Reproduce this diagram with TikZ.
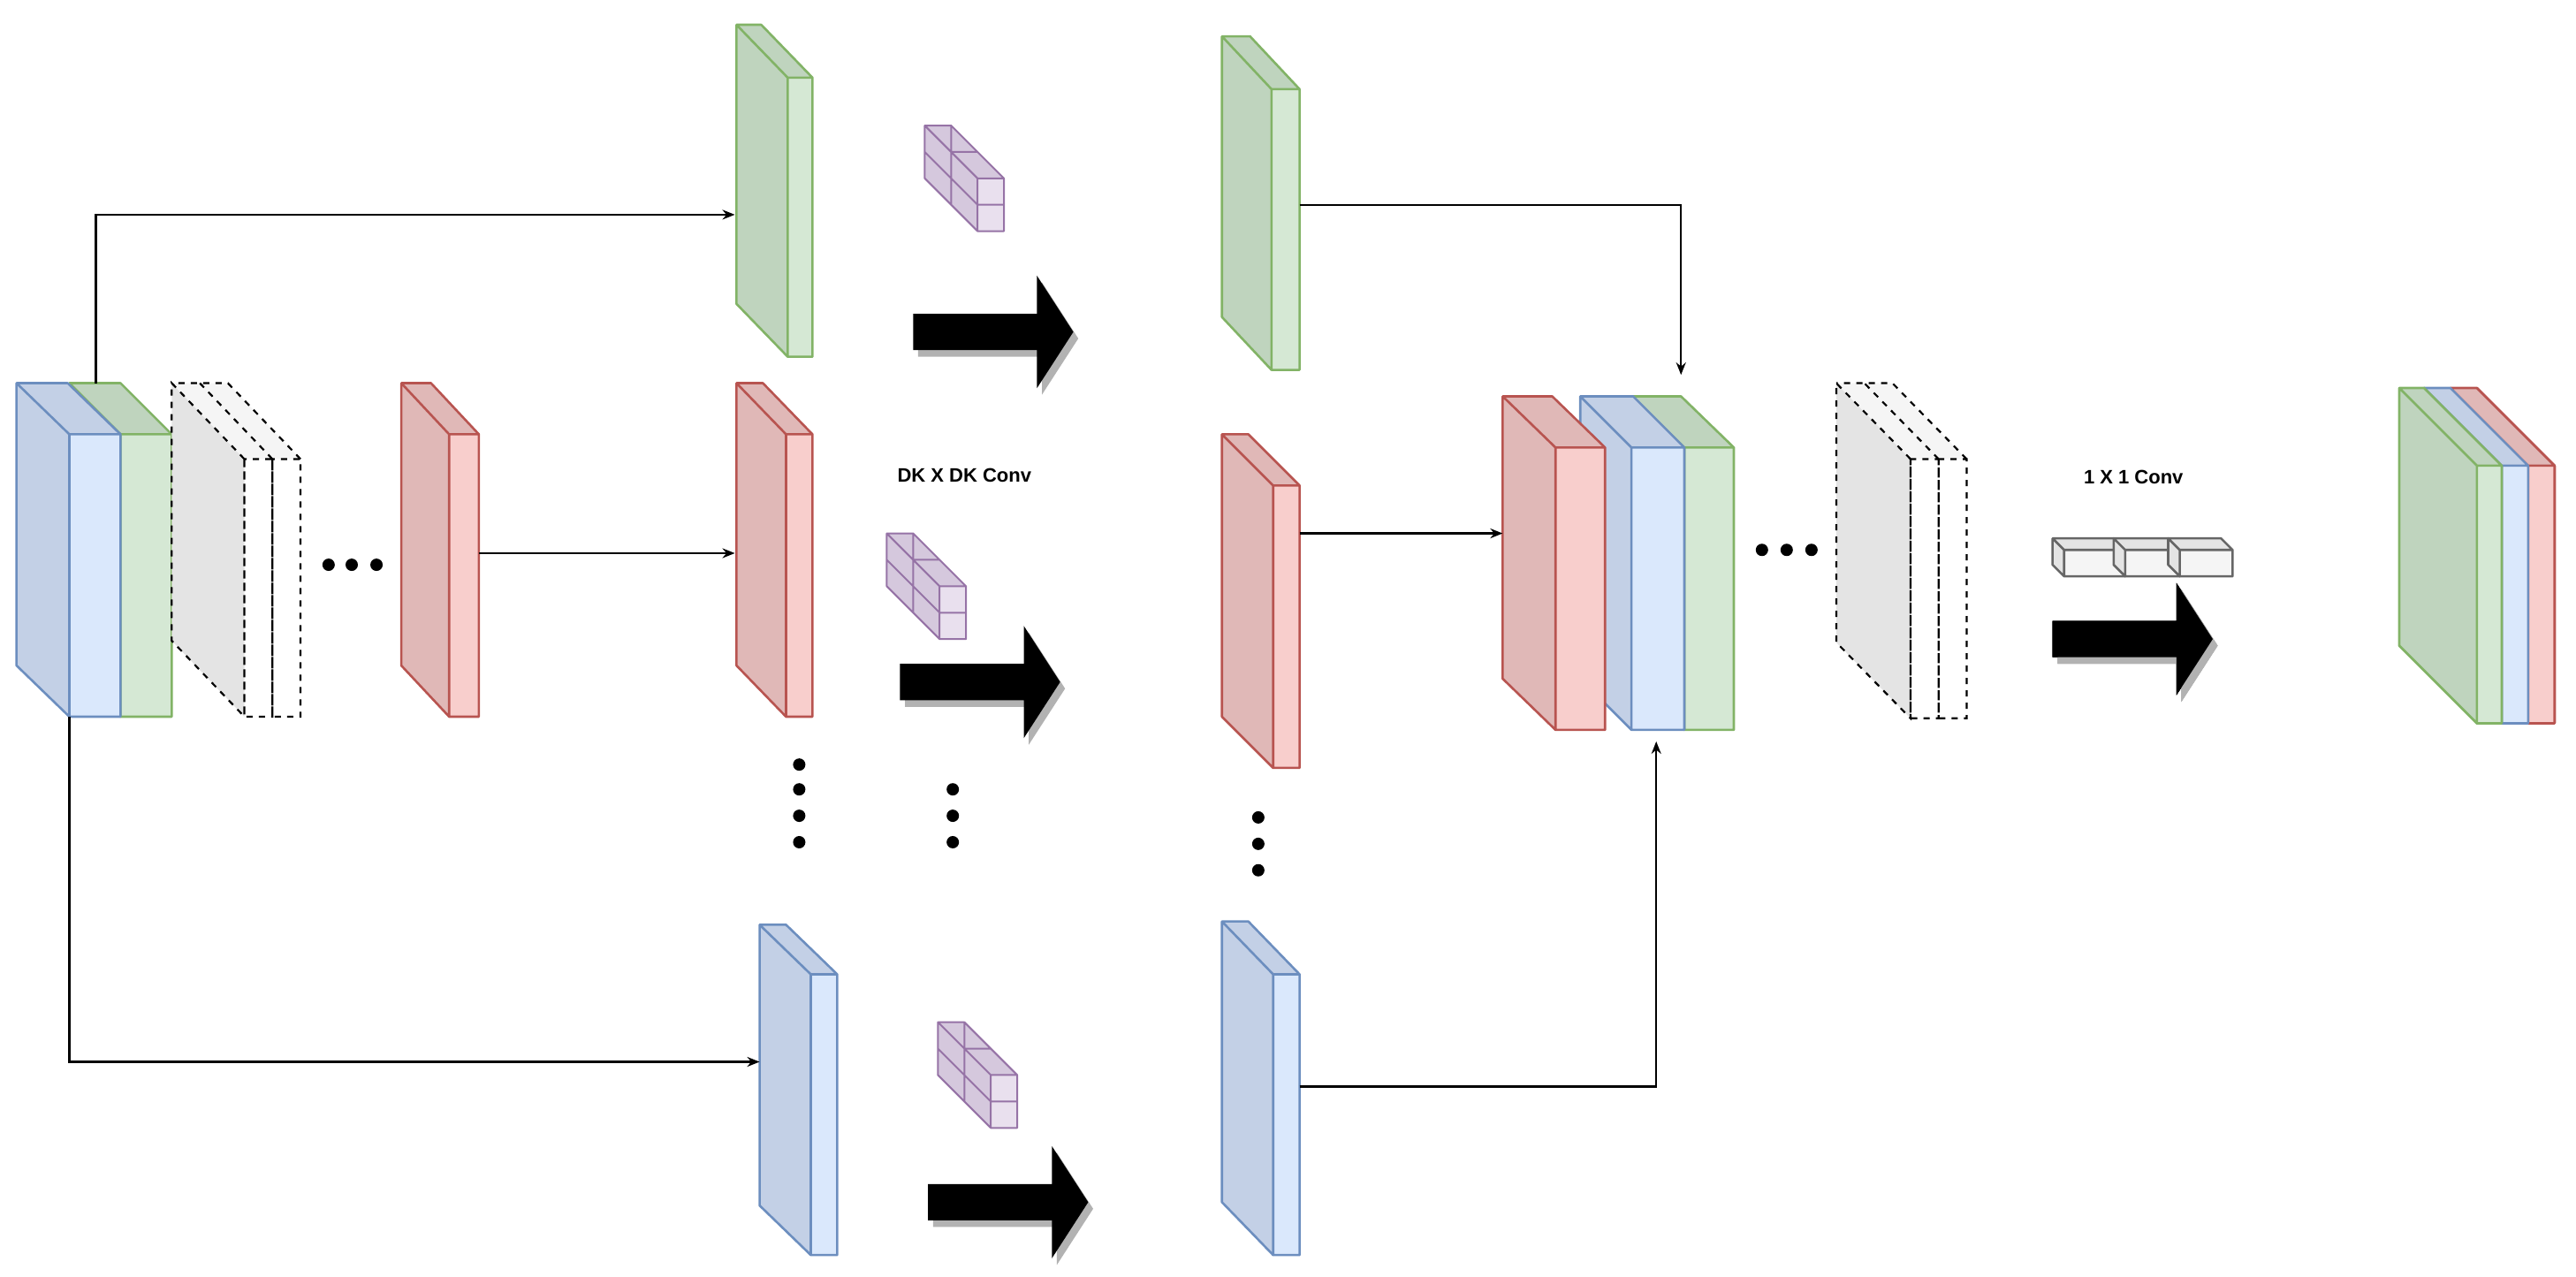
\documentclass[tikz,border=0pt]{standalone}
\usepackage{fontspec}
\setmainfont{Liberation Sans}
\usetikzlibrary{arrows.meta}
\definecolor{bF}{HTML}{DAE8FC}\definecolor{bS}{HTML}{C3D0E6}\definecolor{bD}{HTML}{6C8EBF}
\definecolor{gF}{HTML}{D5E8D4}\definecolor{gS}{HTML}{BFD4BE}\definecolor{gD}{HTML}{82B366}
\definecolor{rF}{HTML}{F8CECC}\definecolor{rS}{HTML}{E0B8B7}\definecolor{rD}{HTML}{B85450}
\definecolor{pF}{HTML}{E9E0EE}\definecolor{pS}{HTML}{D5C8DD}\definecolor{pD}{HTML}{9673A6}
\definecolor{kF}{HTML}{F5F5F5}\definecolor{kS}{HTML}{E4E4E4}\definecolor{kD}{HTML}{666666}
% x y1 y2 w bx by front side stroke
\newcommand\myslab[9]{%
  \fill[#8] (#1,#2)--++(#5,#6)--++(0,#3-#2)--(#1,#3)--cycle;
  \fill[#8] (#1,#2)--++(#5,#6)--++(#4,0)--(#1+#4,#2)--cycle;
  \fill[#7] (#1,#2) rectangle (#1+#4,#3);
  \draw[#9,line width=2.6pt,line join=round] (#1,#3)--++(#5,#6)--++(0,#2-#3)--++(#4,0)--(#1+#4,#2)--(#1+#4,#3)--cycle (#1,#2)--++(#5,#6) (#1,#2)--(#1,#3) (#1,#2)--(#1+#4,#2);}
\newcommand\dslab[5]{% x y1 y2 bx by : two dashed slabs
  \fill[kS] (#1,#2)--++(#4,#5)--++(0,#3-#2)--(#1,#3)--cycle;
  \fill[kF] (#1,#2)--++(#4,#5)--++(34,0)--(#1+34,#2)--cycle;
  \draw[dashed,line width=2.2pt,dash pattern=on 7pt off 7pt] (#1,#2)--++(#4,#5)--++(0,#3-#2)--(#1,#3)--cycle
   (#1+17,#2)--++(#4,#5) (#1+34,#2)--++(#4,#5)--(#1+#4,#2+#5)
   (#1,#2) rectangle (#1+17,#3) (#1+17,#2) rectangle (#1+34,#3);}
\newcommand\pkernel[2]{% front top-left x y, purple 2x2 kernel
  \begin{scope}[shift={(#1,#2)}]
  \fill[pS] (0,0)--(-32,-32)--(-32,0)--(0,32)--cycle;
  \fill[pS] (0,0)--(-32,-32)--(-16,-32)--(16,0)--cycle;
  \fill[pF] (0,0) rectangle (16,32);
  \draw[pD,line width=2pt,line join=round] (0,0) rectangle (16,32) (0,16)--(16,16)
   (0,0)--(-32,-32)--(-16,-32)--(16,0) (-32,-32)--(-32,0)--(0,32) (0,16)--(-32,-16)
   (-16,-16)--(-16,16) (-16,-16)--(0,-16) (-16,-32)--(-16,-16);
  \end{scope}}
\newcommand\fat[3]{% x0 yc name
  \fill[gray!60] (#1+3,#2-11+4)--(#1+78,#2-11+4)--(#1+78,#2-34+4)--(#1+100,#2+4)--(#1+78,#2+34+4)--(#1+78,#2+11+4)--(#1+3,#2+11+4)--cycle;
  \fill[black] (#1,#2-11)--(#1+75,#2-11)--(#1+75,#2-34)--(#1+97,#2)--(#1+75,#2+34)--(#1+75,#2+11)--(#1,#2+11)--cycle;
  \coordinate (#3) at (#1,#2);}
\begin{document}
\begin{tikzpicture}[x=1.869pt,y=-1.869pt,
  conn/.style={line width=2.4pt,-{Stealth[length=14pt,width=11pt]}},
  lbl/.style={font=\fontsize{22}{26}\selectfont\bfseries},
  dot/.style={circle,fill=black,inner sep=0pt,minimum size=14pt}]
\useasboundingbox (0,0) rectangle (1560,773);
% input stack
\myslab{73}{263}{434}{31}{-31}{-31}{gF}{gS}{gD}
\myslab{42}{263}{434}{31}{-32}{-31}{bF}{bS}{bD}
\dslab{148}{278}{434}{-44}{-46}
\foreach \x/\n in {199/a1,213/a2,228/a3} \node[dot] (\n) at (\x,342) {};
\myslab{272}{263}{434}{18}{-29}{-31}{rF}{rS}{rD}
% column 2
\myslab{477}{47}{216}{15}{-31}{-32}{gF}{gS}{gD}
\myslab{476}{263}{434}{16}{-30}{-31}{rF}{rS}{rD}
\myslab{491}{590}{760}{16}{-31}{-30}{bF}{bS}{bD}
\foreach \y/\n in {463/b1,478/b2,494/b3,510/b4} \node[dot] (\n) at (484,\y) {};
% kernels & arrows
\pkernel{592}{108}\pkernel{569}{355}\pkernel{600}{651}
\fat{553}{201}{f1}\fat{545}{413}{f2}\fat{562}{728}{f3}
\node[lbl] (dk) at (584,288) {DK X DK Conv};
\foreach \y/\n in {478/c1,494/c2,510/c3} \node[dot] (\n) at (577,\y) {};
% column 3
\myslab{770}{54}{224}{17}{-30}{-32}{gF}{gS}{gD}
\myslab{771}{294}{465}{16}{-31}{-31}{rF}{rS}{rD}
\myslab{771}{590}{760}{16}{-31}{-32}{bF}{bS}{bD}
\foreach \y/\n in {495/d1,511/d2,527/d3} \node[dot] (\n) at (762,\y) {};
% concat stack
\myslab{1020}{271}{442}{30}{-32}{-31}{gF}{gS}{gD}
\myslab{988}{271}{442}{32}{-31}{-31}{bF}{bS}{bD}
\myslab{942}{271}{442}{30}{-32}{-31}{rF}{rS}{rD}
\foreach \x/\n in {1067/e1,1082/e2,1097/e3} \node[dot] (\n) at (\x,333) {};
\dslab{1157}{278}{435}{-45}{-46}
% 1x1 conv
\node[lbl] (oc) at (1292,289) {1 X 1 Conv};
\foreach \x/\w in {1250/37,1287/33,1320/32} \myslab{\x}{333}{349}{\w}{-7}{-7}{kF}{kS}{kD}
\fat{1243}{387}{f4}
% output stack
\myslab{1531}{282}{438}{16}{-47}{-47}{rF}{rS}{rD}
\myslab{1515}{282}{438}{16}{-47}{-47}{bF}{bS}{bD}
\myslab{1500}{282}{438}{15}{-47}{-47}{gF}{gS}{gD}
% connector coordinates
\coordinate (inT) at (58,232); \coordinate (inB) at (42,434);
\coordinate (g2) at (445,130); \coordinate (r2) at (445,335); \coordinate (b2) at (460,643);
\coordinate (r1) at (290,335);
\coordinate (g3) at (787,124); \coordinate (r3) at (787,323); \coordinate (b3) at (787,658);
\coordinate (cT) at (1018,227); \coordinate (cL) at (910,323); \coordinate (cB) at (1003,449);
\draw[conn] (inT) |- (g2);
\draw[conn] (inB) |- (b2);
\draw[conn] (r1) -- (r2);
\draw[conn] (g3) -| (cT);
\draw[conn] (r3) -- (cL);
\draw[conn] (b3) -| (cB);
\end{tikzpicture}
\end{document}
